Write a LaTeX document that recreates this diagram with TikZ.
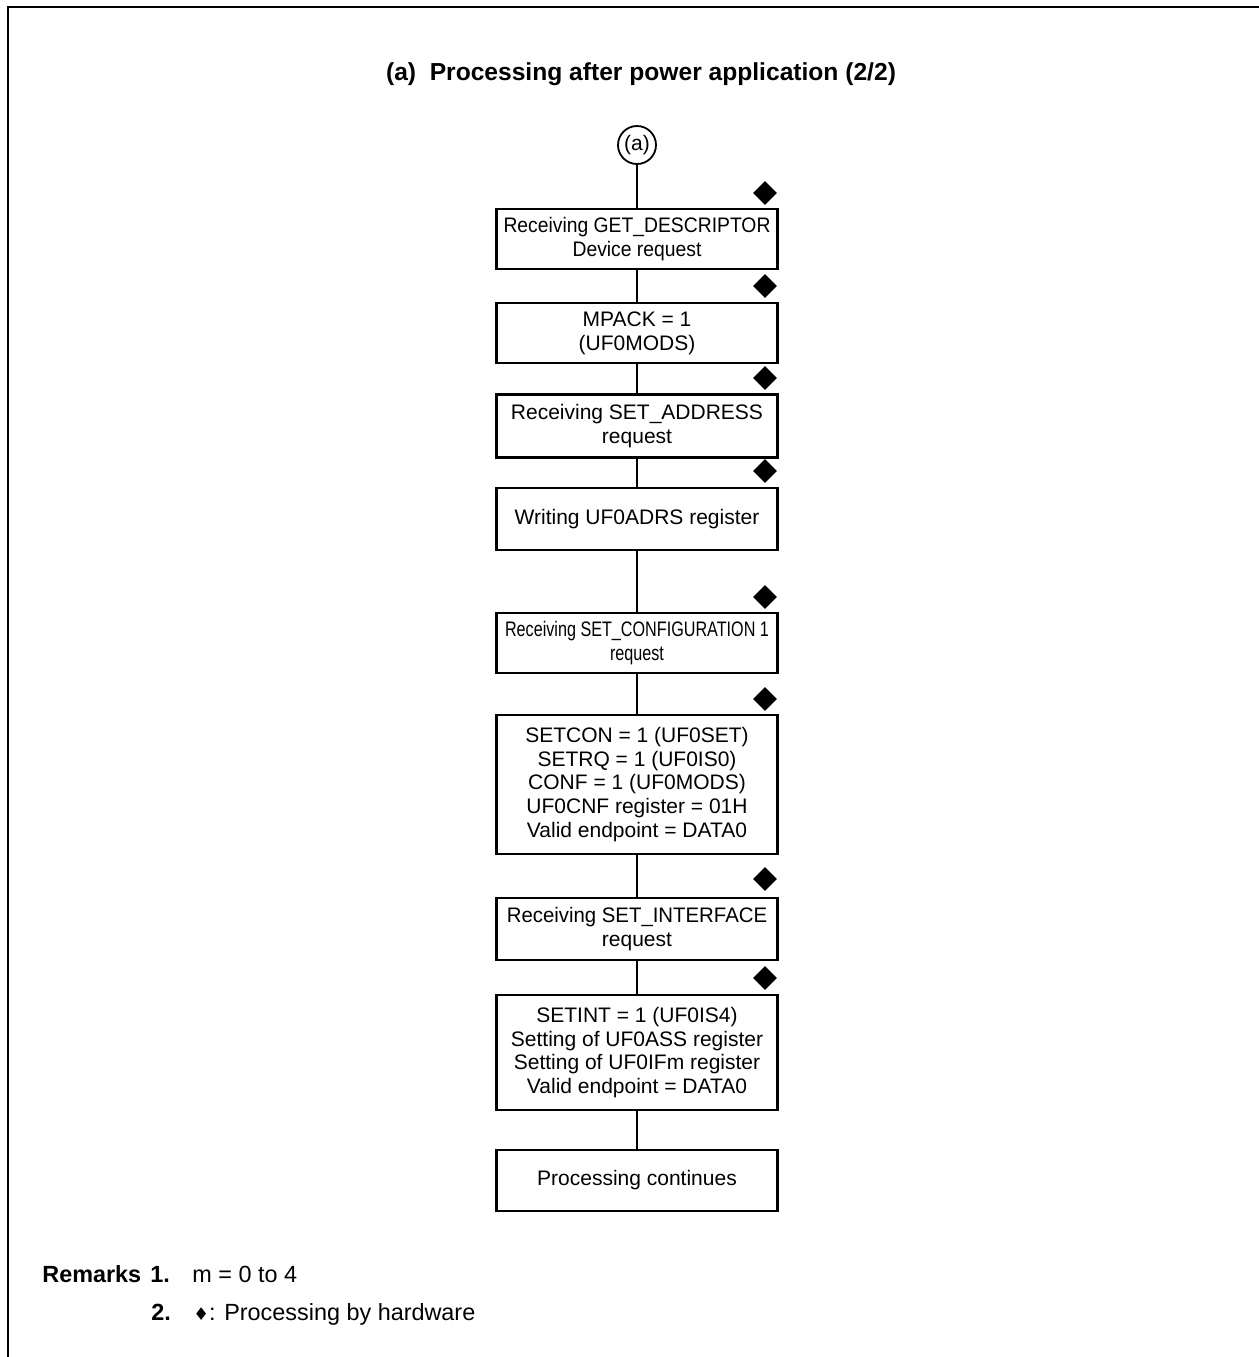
\documentclass[tikz,border=0pt]{standalone}
\usepackage{fontspec}
\setmainfont{Liberation Sans}
\newfontfamily\symfont{DejaVu Sans}
\usetikzlibrary{shapes.geometric}
\begin{document}
\begin{tikzpicture}[x=0.5pt,y=-0.5pt,
  box/.style={draw,line width=1.4pt,minimum width=140.5pt,align=center,
    font=\fontsize{10.5}{11.9}\selectfont,inner sep=0pt},
  hw/.style={diamond,fill=black,inner sep=0pt,minimum width=12pt,minimum height=12pt},
  conn/.style={line width=0.6pt},
  conncircle/.style={circle,draw,line width=0.9pt,minimum size=19pt,inner sep=0pt,
    font=\fontsize{10.5}{12}\selectfont},
  txt/.style={font=\fontsize{11.7}{14}\selectfont,inner sep=0pt,anchor=base west},
  btxt/.style={font=\fontsize{11.7}{14}\bfseries\selectfont,inner sep=0pt,anchor=base west}]
\useasboundingbox (0,0) rectangle (1259,1357);
\draw[line width=1.2pt] (8,1357) -- (8,7) -- (1259,7);

\node[font=\fontsize{12.3}{14}\bfseries\selectfont,anchor=base] (title) at (641,80)
  {(a)\ \ Processing after power application (2/2)};

\node[conncircle] (c) at (637,145) {(a)};

\node[box,minimum height=30pt] (b1) at (637,239)
  {\scalebox{0.92}[1]{Receiving GET\_DESCRIPTOR}\\\scalebox{0.92}[1]{Device request}};
\node[box,minimum height=30pt] (b2) at (637,333) {MPACK = 1\\(UF0MODS)};
\node[box,minimum height=31.5pt] (b3) at (637,426) {Receiving SET\_ADDRESS\\request};
\node[box,minimum height=31pt] (b4) at (637,519) {Writing UF0ADRS register};
\node[box,minimum height=30pt] (b5) at (637,643)
  {\scalebox{0.77}[1]{Receiving SET\_CONFIGURATION 1}\\\scalebox{0.77}[1]{request}};
\node[box,minimum height=69.5pt] (b6) at (637,784.5)
  {SETCON = 1 (UF0SET)\\SETRQ = 1 (UF0IS0)\\CONF = 1 (UF0MODS)\\UF0CNF register = 01H\\Valid endpoint = DATA0};
\node[box,minimum height=31pt] (b7) at (637,929)
  {\scalebox{0.97}[1]{Receiving SET\_INTERFACE}\\request};
\node[box,minimum height=57.5pt] (b8) at (637,1052.5)
  {SETINT = 1 (UF0IS4)\\Setting of UF0ASS register\\Setting of UF0IFm register\\Valid endpoint = DATA0};
\node[box,minimum height=30.5pt] (b9) at (637,1180.5) {Processing continues};

\draw[conn] (c) -- (b1);
\draw[conn] (b1) -- (b2);
\draw[conn] (b2) -- (b3);
\draw[conn] (b3) -- (b4);
\draw[conn] (b4) -- (b5);
\draw[conn] (b5) -- (b6);
\draw[conn] (b6) -- (b7);
\draw[conn] (b7) -- (b8);
\draw[conn] (b8) -- (b9);

\node[hw] (d1) at (765,193) {};
\node[hw] (d2) at (765,286) {};
\node[hw] (d3) at (765,378) {};
\node[hw] (d4) at (765,471) {};
\node[hw] (d5) at (765,597) {};
\node[hw] (d6) at (765,699) {};
\node[hw] (d7) at (765,879) {};
\node[hw] (d8) at (765,978) {};

\node[btxt] (rk) at (42,1282) {Remarks};
\node[btxt] (r1n) at (150,1282) {1.};
\node[txt] (r1) at (192,1282) {m = 0 to 4};
\node[btxt] (r2n) at (151,1320) {2.};
\node[txt] (r2) at (193,1320) {{\symfont\scalebox{0.75}{♦}}: Processing by hardware};
\end{tikzpicture}
\end{document}
